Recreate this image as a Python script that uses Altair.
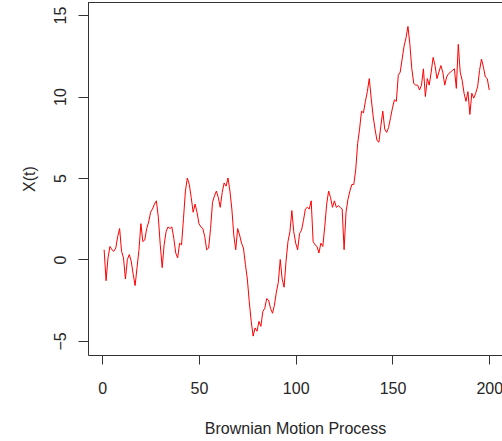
import altair as alt
import pandas as pd

# Brownian motion path X(t), t = 1..200
x_t_1_33 = [0.6, -1.3, 0.1, 0.8, 0.6, 0.5, 0.7, 1.4, 1.9, 0.5, 0.1, -1.2, 0.0, 0.3, -0.1,
            -0.9, -1.6, -0.5, 0.6, 2.2, 1.1, 1.2, 1.9, 2.3, 2.9, 3.1, 3.4, 3.6, 2.6, 0.9,
            -0.5, 0.9, 1.7]
x_t_34_64 = [2.0, 1.9, 2.0, 1.3, 0.4, 0.1, 1.0, 0.9, 2.5, 4.2, 5.0, 4.6, 3.8, 2.9, 3.4,
             2.9, 2.2, 2.0, 1.9, 1.4, 0.6, 0.7, 1.9, 3.5, 3.9, 4.2, 3.8, 3.2, 4.1, 4.7, 4.5]
x_t_65_99 = [5.0, 4.2, 3.1, 1.5, 0.6, 1.9, 1.5, 1.0, 0.7, -0.3, -1.2, -2.6, -3.8, -4.7,
             -4.2, -4.4, -3.8, -4.1, -3.2, -3.0, -2.4, -2.5, -3.0, -3.3, -2.8, -2.0, -1.4,
             0.0, -1.2, -1.7, -0.1, 1.1, 1.7, 3.0, 1.7]
x_t_100_133 = [1.0, 0.6, 1.6, 1.8, 2.4, 3.1, 3.2, 3.1, 3.6, 1.1, 0.9, 0.8, 0.4, 1.0, 0.8,
               2.0, 3.4, 4.2, 3.8, 3.2, 3.6, 3.2, 3.3, 3.2, 3.1, 0.6, 2.9, 3.7, 4.2, 4.6,
               4.6, 5.5, 7.1, 8.0]
x_t_134_166 = [9.1, 9.0, 9.7, 10.3, 11.1, 9.9, 8.8, 8.0, 7.3, 7.2, 8.2, 9.1, 8.0, 7.8, 8.1,
               8.7, 9.3, 9.8, 9.7, 11.3, 11.5, 12.3, 13.1, 13.6, 14.3, 13.2, 11.7, 10.8,
               10.7, 10.7, 10.4, 10.7, 11.7]
x_t_167_200 = [10.0, 11.1, 10.7, 11.5, 12.4, 11.9, 11.1, 11.5, 11.9, 11.5, 10.7, 11.2, 11.4,
               11.5, 11.6, 11.7, 10.5, 13.2, 11.5, 11.0, 10.2, 9.7, 10.3, 8.9, 10.2, 9.9,
               10.2, 10.6, 11.6, 12.3, 11.8, 11.2, 11.1, 10.4]

values = x_t_1_33 + x_t_34_64 + x_t_65_99 + x_t_100_133 + x_t_134_166 + x_t_167_200
steps = list(range(1, len(values) + 1))

x_ticks = [0, 50, 100, 150, 200]
y_ticks = [-5, 0, 5, 10, 15]

df = pd.DataFrame({"t": steps, "X": values})

FONT = "Liberation Sans, Arial, sans-serif"
INK = "#333333"
TXT = "#262626"
W, H = 414, 353

line = alt.Chart(df).mark_line(color="#ff0000", strokeWidth=1).encode(
    x=alt.X(
        "t:Q",
        scale=alt.Scale(domain=[-7.34, 206.6], nice=False, zero=False),
        axis=alt.Axis(
            values=x_ticks, format="d", grid=False,
            domain=True, domainColor=INK, domainWidth=1,
            ticks=True, tickColor=INK, tickSize=9, tickWidth=1,
            labelFont=FONT, labelFontSize=16, labelColor=TXT,
            labelBaseline="alphabetic", labelAlign="center", labelPadding=29,
            labelFlush=False, labelOverlap=False,
            title="Brownian Motion Process", titleFont=FONT, titleFontSize=16,
            titleFontWeight="normal", titleColor=TXT, titleBaseline="alphabetic",
            titleY=78,
        ),
    ),
    y=alt.Y(
        "X:Q",
        scale=alt.Scale(domain=[-5.86, 15.80], nice=False, zero=False),
        axis=alt.Axis(
            values=y_ticks, format="d", grid=False,
            domain=True, domainColor=INK, domainWidth=1,
            ticks=True, tickColor=INK, tickSize=10, tickWidth=1,
            labelFont=FONT, labelFontSize=16, labelColor=TXT,
            labelAngle=270, labelAlign="center", labelBaseline="alphabetic",
            labelPadding=13, labelFlush=False, labelOverlap=False,
            title="X(t)", titleFont=FONT, titleFontSize=16, titleFontWeight="normal",
            titleColor=TXT, titleAngle=270, titleAlign="center",
            titleBaseline="alphabetic", titleX=-54, titleY=176.5,
        ),
    ),
)

top_frame = alt.Chart(alt.Data(values=[{"a": 1}])).mark_rule(
    color=INK, strokeWidth=1
).encode(x=alt.value(0), x2=alt.value(W), y=alt.value(0.5))

chart = (
    alt.layer(line, top_frame)
    .properties(
        width=W,
        height=H,
        autosize=alt.AutoSizeParams(type="none"),
        padding={"left": 88, "top": 2, "right": 0, "bottom": 86},
        background="white",
    )
    .configure_view(stroke=None)
)

chart.save("out.html", embed_options={"renderer": "svg", "actions": False})
